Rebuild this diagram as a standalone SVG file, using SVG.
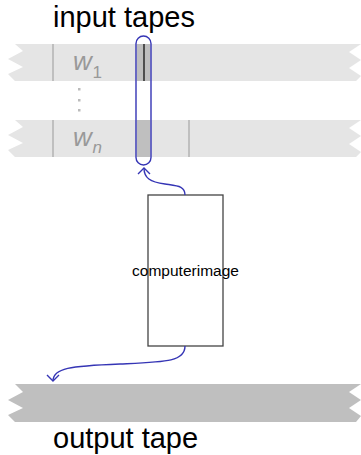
<svg xmlns="http://www.w3.org/2000/svg" width="361" height="455" viewBox="0 0 361 455">
<style>
.lbl{font-family:"Liberation Sans",Arial,sans-serif;fill:#000}
.sym{font-family:"Liberation Sans",Arial,sans-serif;fill:#999;font-style:italic}
.sub{font-family:"Liberation Sans",Arial,sans-serif;fill:#999}
.cell{stroke:#999;stroke-width:1}
.conn{fill:none;stroke:#3535b5;stroke-width:1.4}
</style>
<g id="title-input"><text class="lbl" x="53" y="27" font-size="29">input tapes</text></g>
<g id="tape1">
<polygon points="15,44 361,44 349,52 361,60 349,68 361,76 356,81 15,81 8,74 23,67 8,59 23,51" fill="#e5e5e5"/>
<line class="cell" x1="53" y1="44" x2="53" y2="81"/>
<rect x="137" y="44" width="13" height="37" fill="#bfbfbf"/>
<line x1="144" y1="44" x2="144" y2="81" stroke="#333" stroke-width="1.6"/>
<text class="sym" x="73" y="70" font-size="26">w</text><text class="sub" x="92.5" y="78" font-size="17">1</text>
</g>
<g id="dots" fill="#bbb">
<rect x="78" y="88" width="2.5" height="2.5"/>
<rect x="78" y="99" width="2.5" height="2.5"/>
<rect x="78" y="109" width="2.5" height="2.5"/>
</g>
<g id="tape2">
<polygon points="15,120 361,120 349,128 361,136 349,144 361,152 356,157 15,157 8,150 23,143 8,135 23,127" fill="#e5e5e5"/>
<line class="cell" x1="53" y1="120" x2="53" y2="157"/>
<rect x="137" y="120" width="13" height="37" fill="#bfbfbf"/>
<line class="cell" x1="189" y1="120" x2="189" y2="157"/>
<text class="sym" x="73" y="146" font-size="26">w</text><text class="sym" x="92.5" y="153" font-size="17">n</text>
</g>
<g id="head"><rect x="136" y="36" width="15" height="129" rx="7.5" ry="7.5" fill="none" stroke="#3535b5" stroke-width="1.4"/></g>
<g id="computer">
<rect x="148" y="195" width="75" height="151" fill="none" stroke="#444" stroke-width="1.3"/>
<text class="lbl" x="185.5" y="276" font-size="15.5" text-anchor="middle">computerimage</text>
</g>
<g id="output-tape">
<polygon points="15,384 361,384 349,392 361,400 349,408 361,416 356,422 15,422 8,415 23,408 8,400 23,392" fill="#bfbfbf"/>
</g>
<g id="title-output"><text class="lbl" x="53" y="448" font-size="29">output tape</text></g>
<g id="connectors">
<path class="conn" d="M185,195 C185,186 178,186 165,184 C150,182 144,178 144,168"/>
<path class="conn" d="M138,174 L144,168 L150,174"/>
<path class="conn" d="M185,346 C185,362 165,362 120,364 C70,366 53,368 53,381"/>
<path class="conn" d="M47,375 L53,381 L59,375"/>
</g>
</svg>
